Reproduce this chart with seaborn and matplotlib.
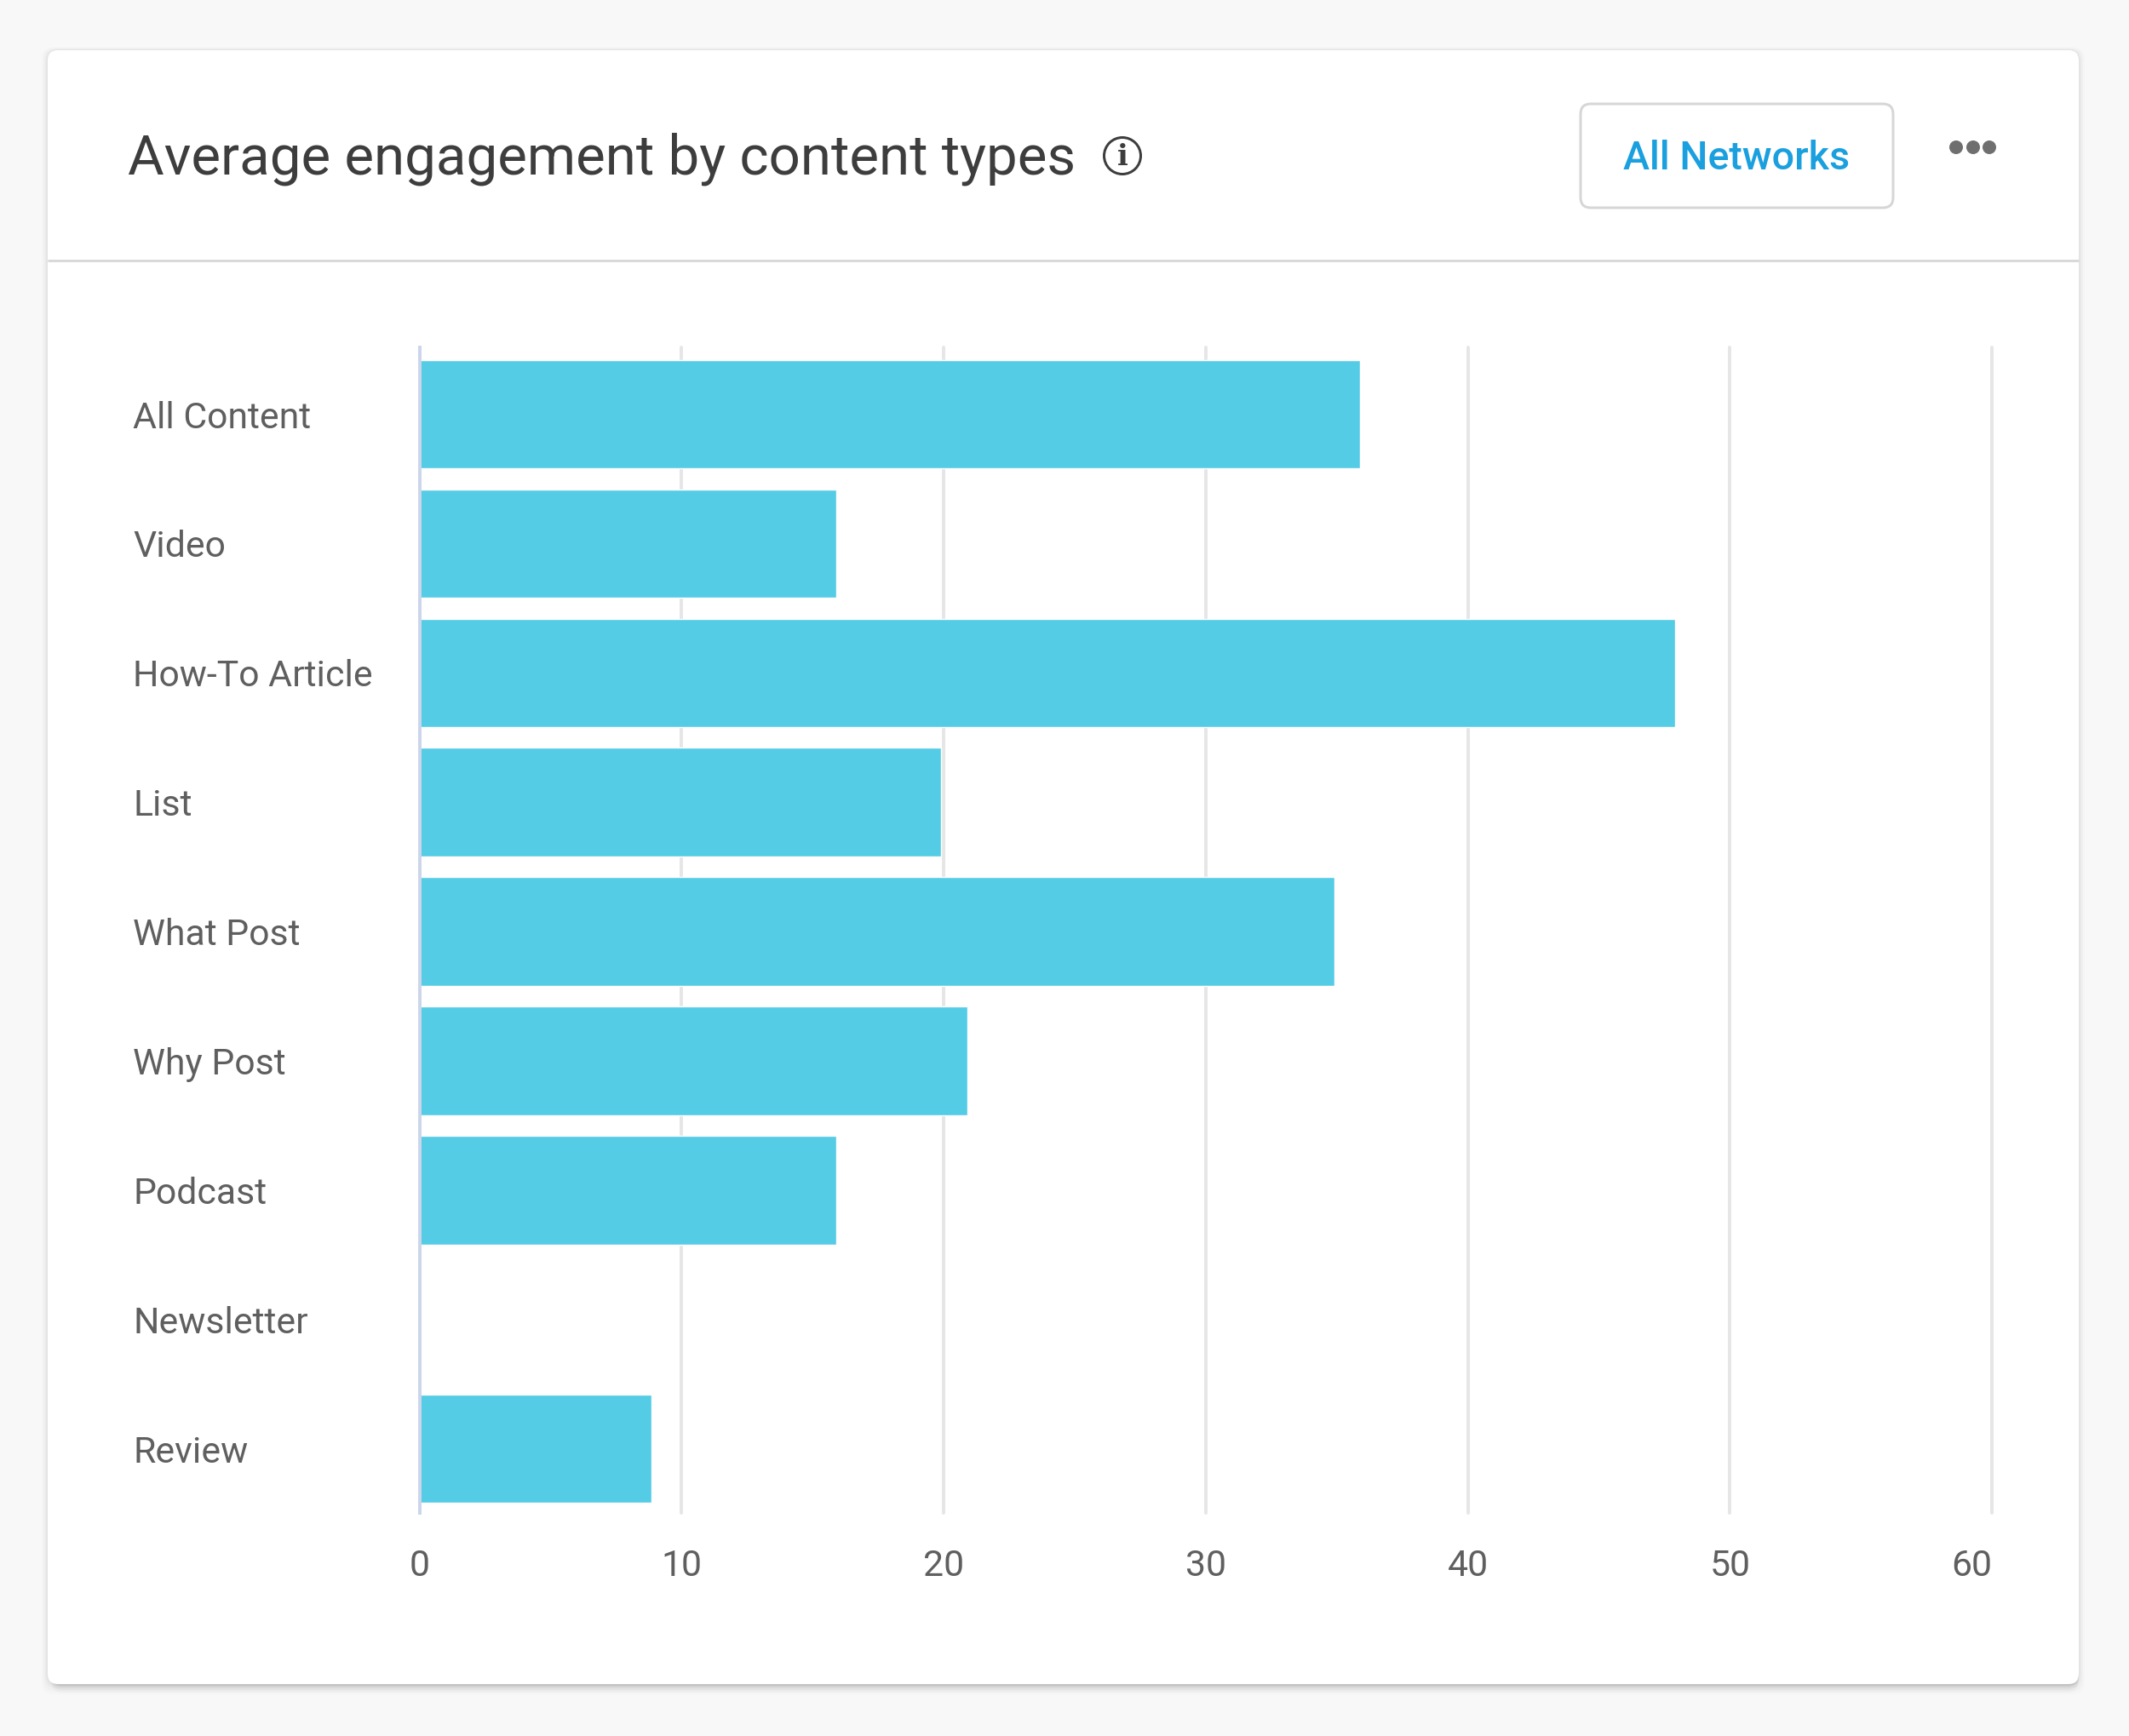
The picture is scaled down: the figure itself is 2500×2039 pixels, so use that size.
import matplotlib
matplotlib.use('Agg')
import matplotlib.pyplot as plt
from matplotlib.patches import FancyBboxPatch, Circle
import pandas as pd
import seaborn as sns

# values
content_types = ['All Content', 'Video', 'How-To Article', 'List', 'What Post',
                 'Why Post', 'Podcast', 'Newsletter', 'Review']
engagement = [35.9, 15.9, 47.9, 19.9, 34.9, 20.9, 15.9, 0, 8.85]
x_ticks = [0, 10, 20, 30, 40, 50, 60]

title = 'Average engagement by content types'
button_label = 'All Networks'

W, H = 2500, 2039
DPI = 100


def pt(px):
    return px * 72 / DPI


sns.set_theme(style='white')
plt.rcParams['font.family'] = ['Roboto', 'DejaVu Sans']

fig = plt.figure(figsize=(W / DPI, H / DPI), dpi=DPI, facecolor='#f8f8f8')

# page layer in pixel coords: card, header, button
page = fig.add_axes([0, 0, 1, 1], zorder=0)
page.set_xlim(0, W)
page.set_ylim(H, 0)
page.axis('off')


def rbox(x0, y0, x1, y1, r, **kw):
    box = FancyBboxPatch((x0 + r, y0 + r), x1 - x0 - 2 * r, y1 - y0 - 2 * r,
                         boxstyle=f'round,pad={r},rounding_size={r}', **kw)
    page.add_patch(box)


# soft shadow, heavier under the card
for grow, alpha in [(7, 0.012), (5, 0.018), (3, 0.024), (1.5, 0.03)]:
    rbox(56 - grow, 59 - grow / 2, 2441 + grow, 1978 + grow * 1.7, 14,
         fc='black', ec='none', alpha=alpha)
for drop, alpha in [(10, 0.02), (7, 0.03), (4, 0.04), (2, 0.05)]:
    rbox(60, 70, 2441, 1978 + drop, 14, fc='black', ec='none', alpha=alpha)
rbox(56, 59, 2441, 1978, 12, fc='white', ec='none')

page.plot([56, 2441], [306, 306], color='#d9d9d9', lw=pt(3), solid_capstyle='butt')

page.text(150, 187, title, fontsize=pt(65.4), color='#3d3d3d', va='center', ha='left')

# info icon
page.add_patch(Circle((1318, 183), 21.5, fc='white', ec='#3d3d3d', lw=pt(3)))
page.text(1318, 184, 'i', fontsize=pt(34), color='#3d3d3d', ha='center', va='center',
          family='DejaVu Serif', fontweight='bold')

# button
rbox(1856, 122, 2223, 244, 12, fc='white', ec='#d6d6d6', lw=pt(3))
page.text(2039, 186, button_label, fontsize=pt(46.6), color='#1a9fdf', ha='center',
          va='center', fontweight='medium')

# menu dots
for cx in (2297, 2317, 2336):
    page.add_patch(Circle((cx, 173), 8, fc='#6f6f6f', ec='none'))

# chart
ax_left, ax_right, ax_top, ax_bottom = 492.5, 2339, 408, 1777
ax = fig.add_axes([ax_left / W, 1 - ax_bottom / H,
                   (ax_right - ax_left) / W, (ax_bottom - ax_top) / H], zorder=1)
ax.patch.set_alpha(0)

df = pd.DataFrame({'type': content_types, 'engagement': engagement})
sns.barplot(data=df, y='type', x='engagement', order=content_types, color='#54cce6',
            saturation=1, width=0.84, ax=ax, zorder=3)

ax.set_xlim(0, 60)
ax.set_ylim(8.496, -0.517)
ax.set_xlabel('')
ax.set_ylabel('')
ax.set_xticks(x_ticks)
ax.grid(axis='x', color='#e6e6e6', lw=pt(4))
ax.set_axisbelow(True)
sns.despine(ax=ax, top=True, right=True, bottom=True, left=False)
ax.spines['left'].set_color('#ccd6eb')
ax.spines['left'].set_linewidth(pt(4))
ax.spines['left'].set_zorder(5)
for line in ax.get_xgridlines():
    line.set_clip_on(False)

ax.tick_params(axis='y', length=0, pad=pt(492.5 - 156), labelsize=pt(42.7), labelcolor='#5f5f5f')
ax.tick_params(axis='x', length=0, pad=pt(42), labelsize=pt(42.7), labelcolor='#5f5f5f')
for lab in ax.get_yticklabels():
    lab.set_ha('left')
# last tick label sits inside the plot edge
ax.get_xticklabels()[-1].set_ha('right')

fig.savefig('out.png', dpi=DPI, facecolor=fig.get_facecolor())
